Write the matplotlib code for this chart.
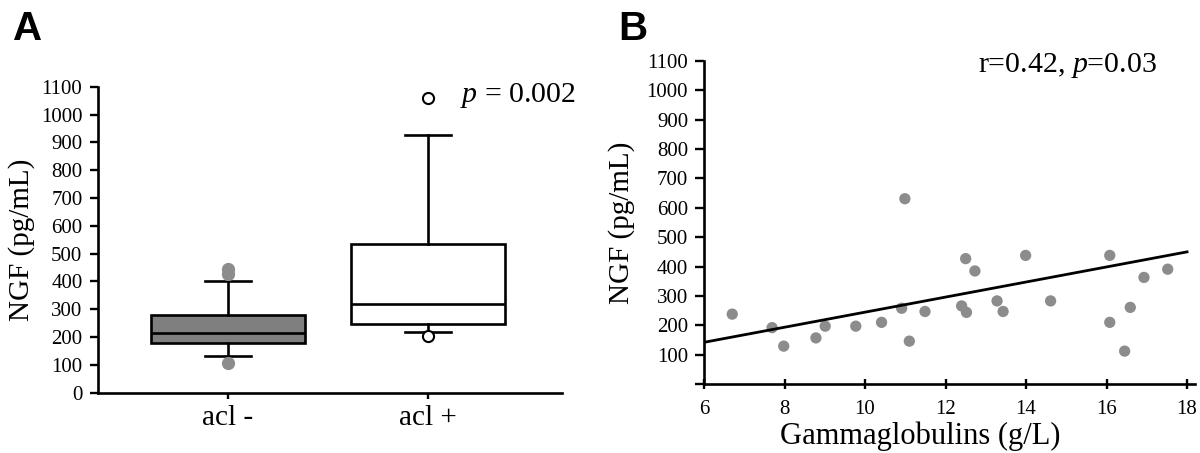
import numpy as np
import matplotlib
matplotlib.use("Agg")
import matplotlib.pyplot as plt

plt.rcParams["font.family"] = ["Liberation Serif", "DejaVu Serif"]
plt.rcParams["mathtext.fontset"] = "custom"
plt.rcParams["mathtext.rm"] = "Liberation Serif"
plt.rcParams["mathtext.it"] = "Liberation Serif:italic"

# ----- Panel A: box plot values -----
groups = ["acl -", "acl +"]
q1 = [177, 247]
median = [216, 319]
q3 = [280, 533]
whisker_lo = [133, 218]
whisker_hi = [403, 926]
outliers = [[108, 425, 443], [204, 1060]]

# ----- Panel B: scatter values -----
gamma = [6.70, 7.69, 7.98, 8.78, 9.01, 9.77, 10.41, 10.91, 10.99, 11.10,
         11.49, 12.40, 12.50, 12.52, 12.73, 13.28, 13.43, 13.99, 14.61,
         16.08, 16.08, 16.45, 16.59, 16.93, 17.52]
ngf = [238, 192, 129, 157, 197, 197, 210, 258, 631, 146,
       247, 266, 427, 244, 385, 283, 247, 438, 283,
       438, 210, 112, 261, 363, 391]
fit_x = [6, 18]
fit_y = [142, 450]

yticks = np.arange(0, 1200, 100)

fig = plt.figure(figsize=(12, 4.53), dpi=100)

# ----- Panel A -----
axA = fig.add_axes([0.0814, 0.1331, 0.3867, 0.6755])
stats = []
for i in range(2):
    stats.append(dict(med=median[i], q1=q1[i], q3=q3[i],
                      whislo=whisker_lo[i], whishi=whisker_hi[i],
                      fliers=outliers[i], label=groups[i]))
bp = axA.bxp(stats, positions=[1, 2], widths=0.77, capwidths=0.23,
             patch_artist=True, showfliers=True,
             boxprops=dict(linewidth=1.9, edgecolor="black"),
             medianprops=dict(color="black", linewidth=1.9),
             whiskerprops=dict(color="black", linewidth=1.9),
             capprops=dict(color="black", linewidth=1.9))
bp["boxes"][0].set_facecolor("#7f7f7f")
bp["boxes"][1].set_facecolor("white")
bp["fliers"][0].set(marker="o", markersize=8.5, markerfacecolor="#8c8c8c",
                    markeredgecolor="#8c8c8c")
bp["fliers"][1].set(marker="o", markersize=8, markerfacecolor="white",
                    markeredgecolor="black", markeredgewidth=1.5)

axA.set_xlim(0.35, 2.67)
axA.set_ylim(0, 1100)
axA.set_yticks(yticks)
axA.set_xticks([1, 2])
axA.set_xticklabels(groups, fontsize=21)
axA.tick_params(axis="y", labelsize=15, length=6, width=1.7, pad=5)
axA.tick_params(axis="x", length=4, width=1.7, pad=5)
for s in ["top", "right"]:
    axA.spines[s].set_visible(False)
for s in ["left", "bottom"]:
    axA.spines[s].set_linewidth(1.9)
axA.set_ylabel("NGF (pg/mL)", fontsize=21)
axA.yaxis.set_label_coords(-0.135, 0.5)
axA.text(2.16, 1070, r"$p$ = 0.002", fontsize=21.5, va="center", ha="left")

# ----- Panel B -----
axB = fig.add_axes([0.5867, 0.1523, 0.4092, 0.713])
axB.scatter(gamma, ngf, s=66, color="#8c8c8c", edgecolors="none", zorder=2)
axB.plot(fit_x, fit_y, color="black", linewidth=2.0, zorder=3)
axB.set_xlim(6, 18.2)
axB.set_ylim(0, 1100)
axB.set_yticks(yticks)
axB.set_yticklabels([""] + [str(v) for v in yticks[1:]])
axB.set_xticks(np.arange(6, 19, 2))
axB.tick_params(axis="y", labelsize=15, length=6.5, width=1.7, pad=5)
axB.tick_params(axis="x", labelsize=15, direction="inout", length=6.5,
                width=1.7, pad=8)
for s in ["top", "right"]:
    axB.spines[s].set_visible(False)
for s in ["left", "bottom"]:
    axB.spines[s].set_linewidth(1.9)
axB.set_ylabel("NGF (pg/mL)", fontsize=21)
axB.yaxis.set_label_coords(-0.14, 0.5)
axB.set_xlabel("Gammaglobulins (g/L)", fontsize=22)
axB.xaxis.set_label_coords(0.44, -0.115)
axB.text(12.8, 1086, r"r=0.42, $p$=0.03", fontsize=21.5, va="center", ha="left")

# panel letters
fig.text(0.011, 0.978, "A", fontsize=29, fontweight="bold",
         family=["Liberation Sans", "DejaVu Sans"], va="top", ha="left")
fig.text(0.515, 0.978, "B", fontsize=29, fontweight="bold",
         family=["Liberation Sans", "DejaVu Sans"], va="top", ha="left")

fig.savefig("out.png", dpi=100)
